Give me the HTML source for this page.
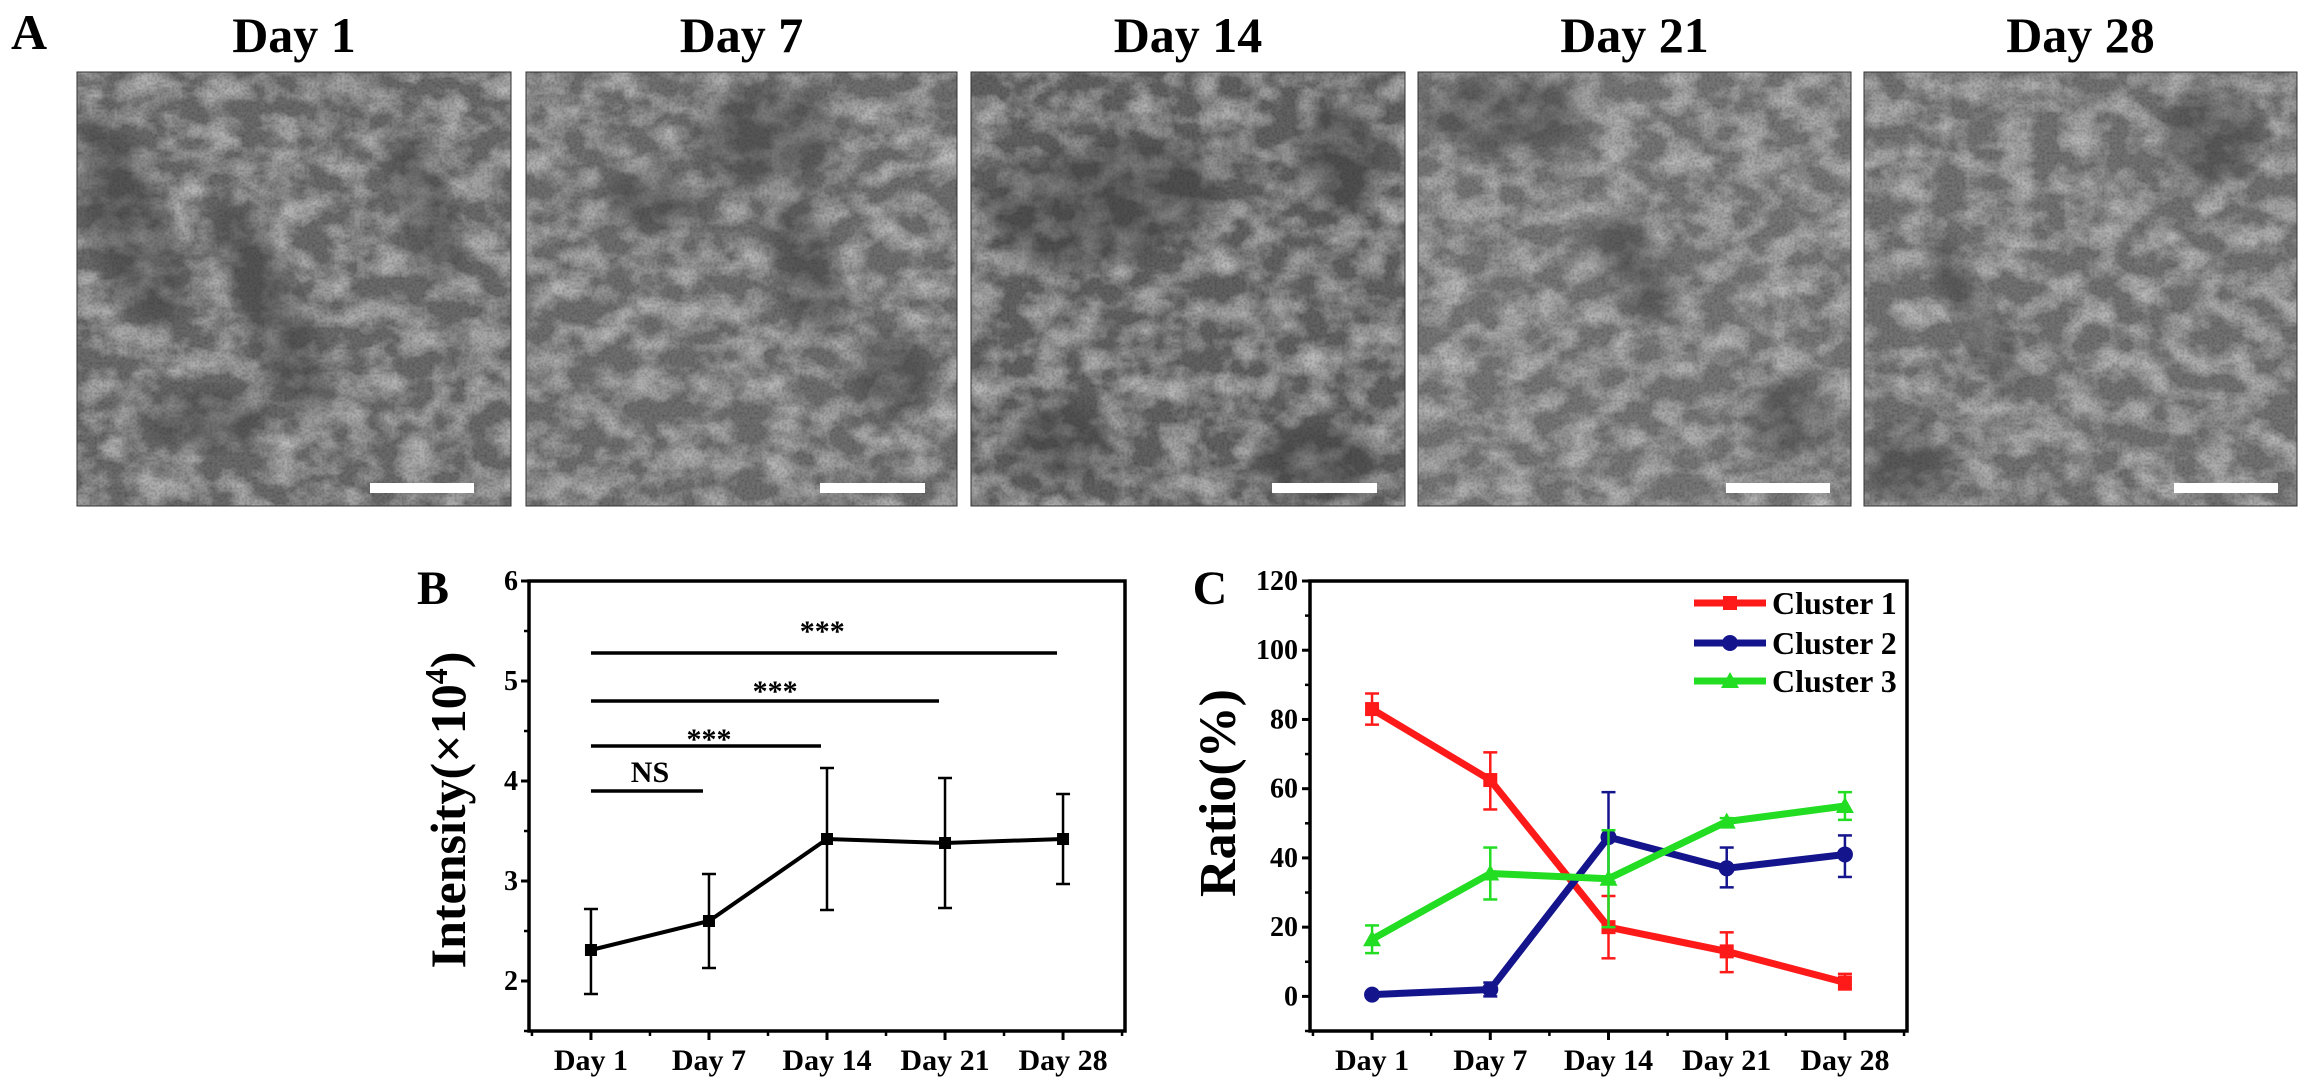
<!DOCTYPE html>
<html><head><meta charset="utf-8">
<style>
html,body{margin:0;padding:0;background:#fff;}
body{width:2309px;height:1090px;overflow:hidden;position:relative;font-family:"Liberation Serif",serif;}
svg{position:absolute;left:0;top:0;}
</style></head>
<body>
<svg id="fig" width="2309" height="1090" viewBox="0 0 2309 1090" xmlns="http://www.w3.org/2000/svg">
<defs>
  <filter id="blur8"><feGaussianBlur stdDeviation="10"/></filter>
</defs>
<g id="panelA"></g>
<g id="chartB"></g>
<g id="chartC"></g>
</svg>
<script>
const NS="http://www.w3.org/2000/svg";
function mk(parent,tag,attrs,text){const e=document.createElementNS(NS,tag);for(const k in attrs)e.setAttribute(k,attrs[k]);if(text!==undefined)e.textContent=text;parent.appendChild(e);return e;}

// ---------- Panel A: microscopy images ----------
const imgTitles=["Day 1","Day 7","Day 14","Day 21","Day 28"];
const imgLeft=[77,526,971,1418,1864];
const imgRight=[511,957,1405,1851,2297];
const barLeft=[370,820,1272,1726,2174];
const barRight=[474,925,1377,1830,2278];
const imgBase=["#6a6a6a","#6e6e6e","#626262","#767676","#727272"];
const A=document.getElementById('panelA');
const lblA=mk(A,'text',{x:11,y:49,'font-size':50,'font-weight':'bold','font-family':'Liberation Serif, serif'},'A');


const blobs=[
 [[0.12,0.35,40,110,-20],[0.45,0.55,30,120,-25],[0.8,0.3,25,80,-20],[0.3,0.8,60,30,0]],
 [[0.55,0.15,70,50,0],[0.65,0.45,30,70,-15],[0.3,0.3,50,30,10],[0.85,0.7,40,40,0]],
 [[0.3,0.3,120,60,-10],[0.2,0.85,50,40,0],[0.8,0.9,60,40,0],[0.85,0.2,40,60,0]],
 [[0.2,0.1,80,40,0],[0.5,0.45,30,60,-30],[0.85,0.8,40,40,0]],
 [[0.25,0.55,20,90,-30],[0.8,0.15,50,50,0],[0.1,0.9,40,40,0]]
];
for(let i=0;i<5;i++){
  const g=mk(A,'g',{});
  
  
  const w=imgRight[i]-imgLeft[i], h=506-72;
  const cid='clip'+i;
  const cp=mk(A,'clipPath',{id:cid}); mk(cp,'rect',{x:imgLeft[i],y:72,width:w,height:h});
  const inner=mk(g,'g',{'clip-path':'url(#'+cid+')'});
  const fid='tf'+i;
  const f=mk(A,'filter',{id:fid,x:imgLeft[i],y:72,width:w,height:h,filterUnits:'userSpaceOnUse'});
  mk(f,'feTurbulence',{type:'fractalNoise',baseFrequency:'0.03 0.04',numOctaves:3,seed:3+i*5,result:'lo'});
  mk(f,'feColorMatrix',{in:'lo',type:'matrix',values:'0 0 0 0 1  0 0 0 0 1  0 0 0 0 1  0.8 0 0 0 -0.3',result:'loA'});
  mk(f,'feTurbulence',{type:'fractalNoise',baseFrequency:'0.4',numOctaves:1,seed:11+i,result:'hi'});
  mk(f,'feColorMatrix',{in:'hi',type:'matrix',values:'0 0 0 0 0  0 0 0 0 0  0 0 0 0 0  0.9 0 0 0 -0.35',result:'hiA'});
  const m=mk(f,'feMerge',{});
  ['SourceGraphic','loA','hiA'].forEach(n=>mk(m,'feMergeNode',{in:n}));
  mk(inner,'rect',{x:imgLeft[i],y:72,width:w,height:h,fill:imgBase[i],filter:'url(#'+fid+')'});
  blobs[i].forEach(b=>{
    mk(inner,'ellipse',{cx:imgLeft[i]+b[0]*w,cy:72+b[1]*h,rx:b[2],ry:b[3],fill:'#333',opacity:0.4,filter:'url(#blur8)',transform:`rotate(${b[4]} ${imgLeft[i]+b[0]*w} ${72+b[1]*h})`});
  });
  mk(g,'rect',{x:imgLeft[i],y:72,width:w,height:h,fill:'none',stroke:'#333','stroke-width':1});
  const sb=mk(g,'rect',{x:barLeft[i],y:483,width:barRight[i]-barLeft[i],height:10,fill:'#fff'});
  
  
  const t=mk(A,'text',{x:(imgLeft[i]+imgRight[i])/2,y:52,'text-anchor':'middle','font-size':50,'font-weight':'bold','font-family':'Liberation Serif, serif'},imgTitles[i]);
  
  
}

// ---------- Shared chart helpers ----------
const categories=["Day 1","Day 7","Day 14","Day 21","Day 28"];

function drawFrame(G,L,R,T,B,yticks,yminor,yS,xS,tickFmt,labelX){
  const fr=mk(G,'rect',{x:L,y:T,width:R-L,height:B-T,fill:'none',stroke:'#000','stroke-width':3.5});
  
  
  yticks.forEach(v=>{
    mk(G,'line',{x1:L-8,x2:L,y1:yS(v),y2:yS(v),stroke:'#000','stroke-width':3});
    const t=mk(G,'text',{x:labelX,y:yS(v)+9,'text-anchor':'end','font-size':28,'font-weight':'bold','font-family':'Liberation Serif, serif'},tickFmt(v));
    
    
  });
  yminor.forEach(v=>mk(G,'line',{x1:L-5,x2:L,y1:yS(v),y2:yS(v),stroke:'#000','stroke-width':2.5}));
  categories.forEach((c,i)=>{
    mk(G,'line',{x1:xS(i),x2:xS(i),y1:B,y2:B+9,stroke:'#000','stroke-width':3});
    mk(G,'line',{x1:xS(i+0.5),x2:xS(i+0.5),y1:B,y2:B+5,stroke:'#000','stroke-width':2.5});
    const t=mk(G,'text',{x:xS(i),y:1070,'text-anchor':'middle','font-size':30,'font-weight':'bold','font-family':'Liberation Serif, serif'},c);
    
    
  });
  mk(G,'line',{x1:xS(-0.5),x2:xS(-0.5),y1:B,y2:B+5,stroke:'#000','stroke-width':2.5});
}
function errBar(G,x,lo,hi,color,w){
  const g=mk(G,'g',{stroke:color,'stroke-width':w});
  
  
  mk(g,'line',{x1:x,x2:x,y1:lo,y2:hi});
  mk(g,'line',{x1:x-7,x2:x+7,y1:lo,y2:lo});
  mk(g,'line',{x1:x-7,x2:x+7,y1:hi,y2:hi});
}

// ---------- Chart B ----------
const bValues=[2.31,2.60,3.42,3.38,3.42];
const bErrLow=[1.87,2.13,2.71,2.73,2.97];
const bErrHigh=[2.72,3.07,4.13,4.03,3.87];
const bTicks=[2,3,4,5,6];
const bMinor=[1.5,2.5,3.5,4.5,5.5];
const sigFrom=[0,0,0,0];
const sigTo=[1,2,3,4];
const sigY=[3.9,4.35,4.8,5.28];
const sigLabels=["NS","***","***","***"];
const sigLabelY=[4.1,4.52,5.0,5.6];
const sigLabelX=[0.5,1.0,1.56,1.96];
(function(){
  const G=document.getElementById('chartB');
  const L=529,R=1125,T=581,Bt=1031,ymin=1.5,ymax=6,xmin=-0.525,xmax=4.525;
  const yS=v=>Bt-(v-ymin)/(ymax-ymin)*(Bt-T);
  const xS=i=>L+(i-xmin)/(xmax-xmin)*(R-L);
  drawFrame(G,L,R,T,Bt,bTicks,bMinor,yS,xS,v=>String(v),518);
  const lb=mk(G,'text',{x:433,y:604,'text-anchor':'middle','font-size':48,'font-weight':'bold','font-family':'Liberation Serif, serif'},'B');
  
  
  const yt=mk(G,'text',{x:0,y:0,transform:'translate(465,810) rotate(-90)','text-anchor':'middle','font-size':50,'font-weight':'bold','font-family':'Liberation Serif, serif'});
  
  
  yt.innerHTML='Intensity(×10<tspan baseline-shift="super" font-size="32">4</tspan>)';
  sigY.forEach((v,k)=>{
    const ln=mk(G,'line',{x1:xS(sigFrom[k]),x2:xS(sigTo[k])-6,y1:yS(v),y2:yS(v),stroke:'#000','stroke-width':3.5});
    
    
    const isNS=sigLabels[k]==="NS";
    const t=mk(G,'text',{x:xS(sigLabelX[k]),y:yS(sigLabelY[k])+(isNS?11:20),'text-anchor':'middle','font-size':30,'font-weight':'bold','font-family':'Liberation Serif, serif'},sigLabels[k]);
    
    
  });
  bValues.forEach((v,i)=>errBar(G,xS(i),yS(bErrLow[i]),yS(bErrHigh[i]),'#000',2.5));
  const pts=bValues.map((v,i)=>xS(i)+','+yS(v)).join(' ');
  const pl=mk(G,'polyline',{points:pts,fill:'none',stroke:'#000','stroke-width':4});
  
  
  bValues.forEach((v,i)=>{
    const r=mk(G,'rect',{x:xS(i)-6,y:yS(v)-6,width:12,height:12,fill:'#000'});
    
    
  });
})();

// ---------- Chart C ----------
const seriesNames=["Cluster 1","Cluster 2","Cluster 3"];
const c1Values=[83,62.5,20,13,4];
const c1Low=[78.5,54,11,7,2];
const c1High=[87.5,70.5,29,18.5,6.5];
const c2Values=[0.5,2,46,37,41];
const c2Low=[0,0,33,31.5,34.5];
const c2High=[1,4,59,43,46.5];
const c3Values=[16.5,35.5,34,50.5,55];
const c3Low=[12.5,28,20,49.5,51];
const c3High=[20.5,43,48,51.5,59];
const cTicks=[0,20,40,60,80,100,120];
const cMinor=[-10,10,30,50,70,90,110];
(function(){
  const G=document.getElementById('chartC');
  const L=1310,R=1907,T=581,Bt=1031,ymin=-10,ymax=120,xmin=-0.525,xmax=4.525;
  const yS=v=>Bt-(v-ymin)/(ymax-ymin)*(Bt-T);
  const xS=i=>L+(i-xmin)/(xmax-xmin)*(R-L);
  drawFrame(G,L,R,T,Bt,cTicks,cMinor,yS,xS,v=>String(v),1298);
  const lc=mk(G,'text',{x:1210,y:604,'text-anchor':'middle','font-size':48,'font-weight':'bold','font-family':'Liberation Serif, serif'},'C');
  
  
  const yt=mk(G,'text',{x:0,y:0,transform:'translate(1235,793) rotate(-90)','text-anchor':'middle','font-size':52,'font-weight':'bold','font-family':'Liberation Serif, serif'},'Ratio(%)');
  
  
  const colors=['#ff1a1a','#14148c','#22dd22'];
  const vals=[c1Values,c2Values,c3Values], lows=[c1Low,c2Low,c3Low], highs=[c1High,c2High,c3High];
  function marker(g,k,x,y){
    let m;
    if(k===0) m=mk(g,'rect',{x:x-7,y:y-7,width:14,height:14,fill:colors[0]});
    else if(k===1) m=mk(g,'circle',{cx:x,cy:y,r:8,fill:colors[1]});
    else m=mk(g,'polygon',{points:`${x},${y-9} ${x+9},${y+7} ${x-9},${y+7}`,fill:colors[2]});
    return m;
  }
  [0,1,2].forEach(k=>{
    const g=mk(G,'g',{});
    
    
    vals[k].forEach((v,i)=>errBar(g,xS(i),yS(lows[k][i]),yS(highs[k][i]),colors[k],2.5));
    mk(g,'polyline',{points:vals[k].map((v,i)=>xS(i)+','+yS(v)).join(' '),fill:'none',stroke:colors[k],'stroke-width':7,'stroke-linejoin':'round'});
    vals[k].forEach((v,i)=>{
      const m=marker(g,k,xS(i),yS(v));
      
      
    });
  });
  const legY=[603,643,681];
  const lg=mk(G,'g',{});
  
  
  seriesNames.forEach((n,k)=>{
    const e=mk(lg,'g',{});
    
    
    mk(e,'line',{x1:1694,x2:1766,y1:legY[k],y2:legY[k],stroke:colors[k],'stroke-width':7});
    marker(e,k,1730,legY[k]);
    mk(e,'text',{x:1772,y:legY[k]+11,'font-size':32,'font-weight':'bold','font-family':'Liberation Serif, serif'},n);
  });
})();
</script>
</body></html>
